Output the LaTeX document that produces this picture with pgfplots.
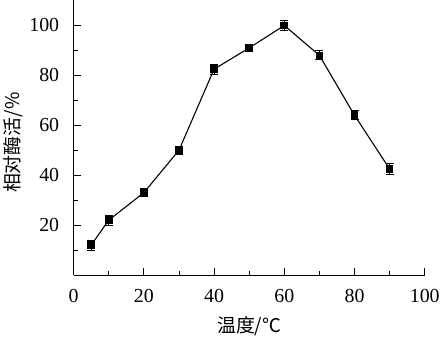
\documentclass[border=0pt]{standalone}
\usepackage{pgfplots}
\pgfplotsset{compat=1.18}
\usepackage{fontspec}
\setmainfont{Liberation Serif}
\newfontfamily\cjk{Noto Sans CJK SC}
\begin{document}
\begin{tikzpicture}
\begin{axis}[
  scale only axis,
  width=353pt, height=276pt,
  xmin=0, xmax=100, ymin=0, ymax=110,
  axis x line*=bottom, axis y line*=left,
  axis line style={line width=1pt, -},
  xtick={0,20,40,60,80,100},
  ytick={20,40,60,80,100},
  minor xtick={10,30,50,70,90},
  minor ytick={10,30,50,70,90},
  tick align=inside,
  major tick length=7pt, minor tick length=4pt,
  tick style={line width=0.9pt, black},
  /pgf/number format/assume math mode=true,
  tick label style={font=\fontsize{20}{22}\selectfont},
  xticklabel style={anchor=center, yshift=-21pt},
  yticklabel style={anchor=east, xshift=-11pt},
  xlabel={\cjk 温度/℃},
  ylabel={\cjk 相对酶活/\%},
  label style={font=\fontsize{19}{22}\selectfont},
  xlabel style={at={(axis description cs:0.5,0)}, anchor=center, yshift=-51pt},
  ylabel style={at={([xshift=-61pt,yshift=-5pt]axis description cs:0,0.5)}, anchor=center},
]
\addplot[black, line width=1.1pt, mark=square*, mark size=3.3pt,
  error bars/.cd, y dir=both, y explicit,
  error bar style={line width=0.9pt},
  error mark options={rotate=90, mark size=4pt, line width=0.9pt}]
coordinates {
(5,12) +- (0,2)
(10,22) +- (0,2)
(20,33) +- (0,1.5)
(30,50) +- (0,1.5)
(40,82.5) +- (0,2)
(50,91) +- (0,1)
(60,100) +- (0,2)
(70,88) +- (0,1.8)
(80,64) +- (0,1.8)
(90,42.5) +- (0,2.2)
};
\end{axis}
\path[use as bounding box] (-73pt,-67pt) rectangle (370pt,276pt);
\end{tikzpicture}
\end{document}
